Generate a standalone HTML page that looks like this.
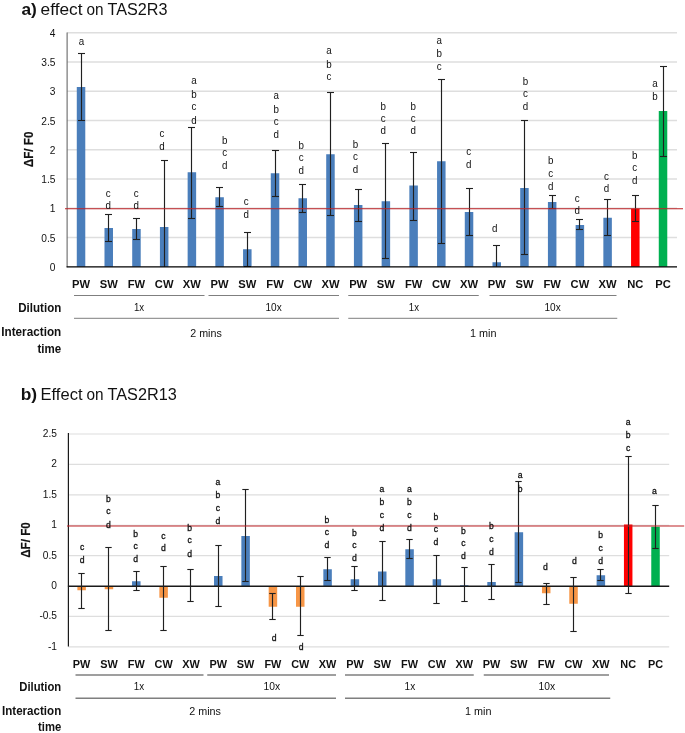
<!DOCTYPE html>
<html lang="en"><head><meta charset="utf-8"><title>Effect on TAS2R3 and TAS2R13</title>
<style>html,body{margin:0;padding:0;background:#fff}body{width:685px;height:733px;overflow:hidden}</style></head>
<body>
<svg width="685" height="733" viewBox="0 0 685 733" style="display:block;will-change:transform" font-family='"Liberation Sans", sans-serif'>
<rect width="685" height="733" fill="#fff"/>
<text x="21.40" y="14.50" font-size="15.6" text-anchor="start" font-weight="bold" fill="#111" textLength="15.40" lengthAdjust="spacingAndGlyphs">a)</text>
<text x="40.55" y="14.50" font-size="15.6" text-anchor="start" font-weight="normal" fill="#111" textLength="41.95" lengthAdjust="spacingAndGlyphs">effect</text>
<text x="86.50" y="14.50" font-size="15.6" text-anchor="start" font-weight="normal" fill="#111" textLength="17.10" lengthAdjust="spacingAndGlyphs">on</text>
<text x="107.50" y="14.50" font-size="15.6" text-anchor="start" font-weight="normal" fill="#111" textLength="59.90" lengthAdjust="spacingAndGlyphs">TAS2R3</text>
<text x="20.70" y="399.50" font-size="15.6" text-anchor="start" font-weight="bold" fill="#111" textLength="16.40" lengthAdjust="spacingAndGlyphs">b)</text>
<text x="40.55" y="399.50" font-size="15.6" text-anchor="start" font-weight="normal" fill="#111" textLength="41.95" lengthAdjust="spacingAndGlyphs">Effect</text>
<text x="86.50" y="399.50" font-size="15.6" text-anchor="start" font-weight="normal" fill="#111" textLength="17.10" lengthAdjust="spacingAndGlyphs">on</text>
<text x="107.50" y="399.50" font-size="15.6" text-anchor="start" font-weight="normal" fill="#111" textLength="69.30" lengthAdjust="spacingAndGlyphs">TAS2R13</text>
<line x1="67.10" y1="237.50" x2="677.00" y2="237.50" stroke="#dedede" stroke-width="1.4"/>
<line x1="67.10" y1="208.25" x2="677.00" y2="208.25" stroke="#dedede" stroke-width="1.4"/>
<line x1="67.10" y1="179.00" x2="677.00" y2="179.00" stroke="#dedede" stroke-width="1.4"/>
<line x1="67.10" y1="149.75" x2="677.00" y2="149.75" stroke="#dedede" stroke-width="1.4"/>
<line x1="67.10" y1="120.50" x2="677.00" y2="120.50" stroke="#dedede" stroke-width="1.4"/>
<line x1="67.10" y1="91.25" x2="677.00" y2="91.25" stroke="#dedede" stroke-width="1.4"/>
<line x1="67.10" y1="62.00" x2="677.00" y2="62.00" stroke="#dedede" stroke-width="1.4"/>
<line x1="67.10" y1="32.75" x2="677.00" y2="32.75" stroke="#dedede" stroke-width="1.4"/>
<text x="55.50" y="270.75" font-size="10.2" text-anchor="end" font-weight="normal" fill="#111">0</text>
<text x="55.50" y="241.50" font-size="10.2" text-anchor="end" font-weight="normal" fill="#111">0.5</text>
<text x="55.50" y="212.25" font-size="10.2" text-anchor="end" font-weight="normal" fill="#111">1</text>
<text x="55.50" y="183.00" font-size="10.2" text-anchor="end" font-weight="normal" fill="#111">1.5</text>
<text x="55.50" y="153.75" font-size="10.2" text-anchor="end" font-weight="normal" fill="#111">2</text>
<text x="55.50" y="124.50" font-size="10.2" text-anchor="end" font-weight="normal" fill="#111">2.5</text>
<text x="55.50" y="95.25" font-size="10.2" text-anchor="end" font-weight="normal" fill="#111">3</text>
<text x="55.50" y="66.00" font-size="10.2" text-anchor="end" font-weight="normal" fill="#111">3.5</text>
<text x="55.50" y="36.75" font-size="10.2" text-anchor="end" font-weight="normal" fill="#111">4</text>
<rect x="76.78" y="87.00" width="8.50" height="179.75" fill="#4a7ebb"/>
<rect x="104.49" y="228.00" width="8.50" height="38.75" fill="#4a7ebb"/>
<rect x="132.21" y="229.00" width="8.50" height="37.75" fill="#4a7ebb"/>
<rect x="159.92" y="227.00" width="8.50" height="39.75" fill="#4a7ebb"/>
<rect x="187.64" y="172.25" width="8.50" height="94.50" fill="#4a7ebb"/>
<rect x="215.35" y="197.25" width="8.50" height="69.50" fill="#4a7ebb"/>
<rect x="243.06" y="249.25" width="8.50" height="17.50" fill="#4a7ebb"/>
<rect x="270.78" y="173.25" width="8.50" height="93.50" fill="#4a7ebb"/>
<rect x="298.49" y="198.25" width="8.50" height="68.50" fill="#4a7ebb"/>
<rect x="326.21" y="154.25" width="8.50" height="112.50" fill="#4a7ebb"/>
<rect x="353.92" y="205.00" width="8.50" height="61.75" fill="#4a7ebb"/>
<rect x="381.63" y="201.25" width="8.50" height="65.50" fill="#4a7ebb"/>
<rect x="409.35" y="185.50" width="8.50" height="81.25" fill="#4a7ebb"/>
<rect x="437.06" y="161.25" width="8.50" height="105.50" fill="#4a7ebb"/>
<rect x="464.78" y="212.00" width="8.50" height="54.75" fill="#4a7ebb"/>
<rect x="492.49" y="262.25" width="8.50" height="4.50" fill="#4a7ebb"/>
<rect x="520.20" y="188.00" width="8.50" height="78.75" fill="#4a7ebb"/>
<rect x="547.92" y="202.00" width="8.50" height="64.75" fill="#4a7ebb"/>
<rect x="575.63" y="225.00" width="8.50" height="41.75" fill="#4a7ebb"/>
<rect x="603.35" y="217.75" width="8.50" height="49.00" fill="#4a7ebb"/>
<rect x="631.06" y="208.75" width="8.50" height="58.00" fill="#ff0000"/>
<rect x="658.77" y="111.00" width="8.50" height="155.75" fill="#00b050"/>
<line x1="81.50" y1="53.25" x2="81.50" y2="120.00" stroke="#202020" stroke-width="1.15"/>
<line x1="78.00" y1="53.50" x2="85.00" y2="53.50" stroke="#202020" stroke-width="1.1"/>
<line x1="78.00" y1="120.50" x2="85.00" y2="120.50" stroke="#202020" stroke-width="1.1"/>
<line x1="108.50" y1="214.75" x2="108.50" y2="241.25" stroke="#202020" stroke-width="1.15"/>
<line x1="105.00" y1="214.50" x2="112.00" y2="214.50" stroke="#202020" stroke-width="1.1"/>
<line x1="105.00" y1="241.50" x2="112.00" y2="241.50" stroke="#202020" stroke-width="1.1"/>
<line x1="136.50" y1="218.75" x2="136.50" y2="239.25" stroke="#202020" stroke-width="1.15"/>
<line x1="133.00" y1="218.50" x2="140.00" y2="218.50" stroke="#202020" stroke-width="1.1"/>
<line x1="133.00" y1="239.50" x2="140.00" y2="239.50" stroke="#202020" stroke-width="1.1"/>
<line x1="164.50" y1="160.00" x2="164.50" y2="266.75" stroke="#202020" stroke-width="1.15"/>
<line x1="161.00" y1="160.50" x2="168.00" y2="160.50" stroke="#202020" stroke-width="1.1"/>
<line x1="191.50" y1="127.00" x2="191.50" y2="218.00" stroke="#202020" stroke-width="1.15"/>
<line x1="188.00" y1="127.50" x2="195.00" y2="127.50" stroke="#202020" stroke-width="1.1"/>
<line x1="188.00" y1="218.50" x2="195.00" y2="218.50" stroke="#202020" stroke-width="1.1"/>
<line x1="219.50" y1="187.75" x2="219.50" y2="206.25" stroke="#202020" stroke-width="1.15"/>
<line x1="216.00" y1="187.50" x2="223.00" y2="187.50" stroke="#202020" stroke-width="1.1"/>
<line x1="216.00" y1="206.50" x2="223.00" y2="206.50" stroke="#202020" stroke-width="1.1"/>
<line x1="247.50" y1="232.75" x2="247.50" y2="266.00" stroke="#202020" stroke-width="1.15"/>
<line x1="244.00" y1="232.50" x2="251.00" y2="232.50" stroke="#202020" stroke-width="1.1"/>
<line x1="244.00" y1="266.50" x2="251.00" y2="266.50" stroke="#202020" stroke-width="1.1"/>
<line x1="275.50" y1="150.50" x2="275.50" y2="196.25" stroke="#202020" stroke-width="1.15"/>
<line x1="272.00" y1="150.50" x2="279.00" y2="150.50" stroke="#202020" stroke-width="1.1"/>
<line x1="272.00" y1="196.50" x2="279.00" y2="196.50" stroke="#202020" stroke-width="1.1"/>
<line x1="302.50" y1="184.50" x2="302.50" y2="212.50" stroke="#202020" stroke-width="1.15"/>
<line x1="299.00" y1="184.50" x2="306.00" y2="184.50" stroke="#202020" stroke-width="1.1"/>
<line x1="299.00" y1="212.50" x2="306.00" y2="212.50" stroke="#202020" stroke-width="1.1"/>
<line x1="330.50" y1="92.50" x2="330.50" y2="215.75" stroke="#202020" stroke-width="1.15"/>
<line x1="327.00" y1="92.50" x2="334.00" y2="92.50" stroke="#202020" stroke-width="1.1"/>
<line x1="327.00" y1="215.50" x2="334.00" y2="215.50" stroke="#202020" stroke-width="1.1"/>
<line x1="358.50" y1="189.75" x2="358.50" y2="221.25" stroke="#202020" stroke-width="1.15"/>
<line x1="355.00" y1="189.50" x2="362.00" y2="189.50" stroke="#202020" stroke-width="1.1"/>
<line x1="355.00" y1="221.50" x2="362.00" y2="221.50" stroke="#202020" stroke-width="1.1"/>
<line x1="385.50" y1="143.25" x2="385.50" y2="258.75" stroke="#202020" stroke-width="1.15"/>
<line x1="382.00" y1="143.50" x2="389.00" y2="143.50" stroke="#202020" stroke-width="1.1"/>
<line x1="382.00" y1="258.50" x2="389.00" y2="258.50" stroke="#202020" stroke-width="1.1"/>
<line x1="413.50" y1="152.25" x2="413.50" y2="220.25" stroke="#202020" stroke-width="1.15"/>
<line x1="410.00" y1="152.50" x2="417.00" y2="152.50" stroke="#202020" stroke-width="1.1"/>
<line x1="410.00" y1="220.50" x2="417.00" y2="220.50" stroke="#202020" stroke-width="1.1"/>
<line x1="441.50" y1="79.50" x2="441.50" y2="243.75" stroke="#202020" stroke-width="1.15"/>
<line x1="438.00" y1="79.50" x2="445.00" y2="79.50" stroke="#202020" stroke-width="1.1"/>
<line x1="438.00" y1="243.50" x2="445.00" y2="243.50" stroke="#202020" stroke-width="1.1"/>
<line x1="469.50" y1="188.25" x2="469.50" y2="235.25" stroke="#202020" stroke-width="1.15"/>
<line x1="466.00" y1="188.50" x2="473.00" y2="188.50" stroke="#202020" stroke-width="1.1"/>
<line x1="466.00" y1="235.50" x2="473.00" y2="235.50" stroke="#202020" stroke-width="1.1"/>
<line x1="496.50" y1="245.50" x2="496.50" y2="266.75" stroke="#202020" stroke-width="1.15"/>
<line x1="493.00" y1="245.50" x2="500.00" y2="245.50" stroke="#202020" stroke-width="1.1"/>
<line x1="524.50" y1="120.50" x2="524.50" y2="254.50" stroke="#202020" stroke-width="1.15"/>
<line x1="521.00" y1="120.50" x2="528.00" y2="120.50" stroke="#202020" stroke-width="1.1"/>
<line x1="521.00" y1="254.50" x2="528.00" y2="254.50" stroke="#202020" stroke-width="1.1"/>
<line x1="552.50" y1="195.25" x2="552.50" y2="208.00" stroke="#202020" stroke-width="1.15"/>
<line x1="549.00" y1="195.50" x2="556.00" y2="195.50" stroke="#202020" stroke-width="1.1"/>
<line x1="549.00" y1="208.50" x2="556.00" y2="208.50" stroke="#202020" stroke-width="1.1"/>
<line x1="579.50" y1="219.50" x2="579.50" y2="229.25" stroke="#202020" stroke-width="1.15"/>
<line x1="576.00" y1="219.50" x2="583.00" y2="219.50" stroke="#202020" stroke-width="1.1"/>
<line x1="576.00" y1="229.50" x2="583.00" y2="229.50" stroke="#202020" stroke-width="1.1"/>
<line x1="607.50" y1="199.25" x2="607.50" y2="235.25" stroke="#202020" stroke-width="1.15"/>
<line x1="604.00" y1="199.50" x2="611.00" y2="199.50" stroke="#202020" stroke-width="1.1"/>
<line x1="604.00" y1="235.50" x2="611.00" y2="235.50" stroke="#202020" stroke-width="1.1"/>
<line x1="635.50" y1="195.50" x2="635.50" y2="221.75" stroke="#202020" stroke-width="1.15"/>
<line x1="632.00" y1="195.50" x2="639.00" y2="195.50" stroke="#202020" stroke-width="1.1"/>
<line x1="632.00" y1="221.50" x2="639.00" y2="221.50" stroke="#202020" stroke-width="1.1"/>
<line x1="663.50" y1="66.00" x2="663.50" y2="156.50" stroke="#202020" stroke-width="1.15"/>
<line x1="660.00" y1="66.50" x2="667.00" y2="66.50" stroke="#202020" stroke-width="1.1"/>
<line x1="660.00" y1="156.50" x2="667.00" y2="156.50" stroke="#202020" stroke-width="1.1"/>
<line x1="67.10" y1="32.50" x2="67.10" y2="267.25" stroke="#595959" stroke-width="1"/>
<line x1="66.60" y1="266.80" x2="677.00" y2="266.80" stroke="#000" stroke-width="1.35"/>
<line x1="65.00" y1="208.70" x2="683.00" y2="208.70" stroke="#bd2226" stroke-width="1.15"/>
<text transform="translate(81.50,45.00) scale(0.97,1)" font-size="10.1" text-anchor="middle" fill="#111">a</text>
<text transform="translate(108.25,197.00) scale(0.97,1)" font-size="10.1" text-anchor="middle" fill="#111">c</text>
<text transform="translate(108.25,209.00) scale(0.97,1)" font-size="10.1" text-anchor="middle" fill="#111">d</text>
<text transform="translate(136.25,197.00) scale(0.97,1)" font-size="10.1" text-anchor="middle" fill="#111">c</text>
<text transform="translate(136.25,209.00) scale(0.97,1)" font-size="10.1" text-anchor="middle" fill="#111">d</text>
<text transform="translate(162.00,137.00) scale(0.97,1)" font-size="10.1" text-anchor="middle" fill="#111">c</text>
<text transform="translate(162.00,150.00) scale(0.97,1)" font-size="10.1" text-anchor="middle" fill="#111">d</text>
<text transform="translate(194.00,84.00) scale(0.97,1)" font-size="10.1" text-anchor="middle" fill="#111">a</text>
<text transform="translate(194.00,98.00) scale(0.97,1)" font-size="10.1" text-anchor="middle" fill="#111">b</text>
<text transform="translate(194.00,110.00) scale(0.97,1)" font-size="10.1" text-anchor="middle" fill="#111">c</text>
<text transform="translate(194.00,124.00) scale(0.97,1)" font-size="10.1" text-anchor="middle" fill="#111">d</text>
<text transform="translate(224.60,144.00) scale(0.97,1)" font-size="10.1" text-anchor="middle" fill="#111">b</text>
<text transform="translate(224.60,156.00) scale(0.97,1)" font-size="10.1" text-anchor="middle" fill="#111">c</text>
<text transform="translate(224.60,169.00) scale(0.97,1)" font-size="10.1" text-anchor="middle" fill="#111">d</text>
<text transform="translate(246.25,205.00) scale(0.97,1)" font-size="10.1" text-anchor="middle" fill="#111">c</text>
<text transform="translate(246.25,218.00) scale(0.97,1)" font-size="10.1" text-anchor="middle" fill="#111">d</text>
<text transform="translate(276.25,99.00) scale(0.97,1)" font-size="10.1" text-anchor="middle" fill="#111">a</text>
<text transform="translate(276.25,113.00) scale(0.97,1)" font-size="10.1" text-anchor="middle" fill="#111">b</text>
<text transform="translate(276.25,125.00) scale(0.97,1)" font-size="10.1" text-anchor="middle" fill="#111">c</text>
<text transform="translate(276.25,138.00) scale(0.97,1)" font-size="10.1" text-anchor="middle" fill="#111">d</text>
<text transform="translate(301.25,149.00) scale(0.97,1)" font-size="10.1" text-anchor="middle" fill="#111">b</text>
<text transform="translate(301.25,161.00) scale(0.97,1)" font-size="10.1" text-anchor="middle" fill="#111">c</text>
<text transform="translate(301.25,174.00) scale(0.97,1)" font-size="10.1" text-anchor="middle" fill="#111">d</text>
<text transform="translate(329.00,54.00) scale(0.97,1)" font-size="10.1" text-anchor="middle" fill="#111">a</text>
<text transform="translate(329.00,68.00) scale(0.97,1)" font-size="10.1" text-anchor="middle" fill="#111">b</text>
<text transform="translate(329.00,80.00) scale(0.97,1)" font-size="10.1" text-anchor="middle" fill="#111">c</text>
<text transform="translate(355.50,148.00) scale(0.97,1)" font-size="10.1" text-anchor="middle" fill="#111">b</text>
<text transform="translate(355.50,160.00) scale(0.97,1)" font-size="10.1" text-anchor="middle" fill="#111">c</text>
<text transform="translate(355.50,173.00) scale(0.97,1)" font-size="10.1" text-anchor="middle" fill="#111">d</text>
<text transform="translate(383.25,110.00) scale(0.97,1)" font-size="10.1" text-anchor="middle" fill="#111">b</text>
<text transform="translate(383.25,122.00) scale(0.97,1)" font-size="10.1" text-anchor="middle" fill="#111">c</text>
<text transform="translate(383.25,134.00) scale(0.97,1)" font-size="10.1" text-anchor="middle" fill="#111">d</text>
<text transform="translate(413.25,110.00) scale(0.97,1)" font-size="10.1" text-anchor="middle" fill="#111">b</text>
<text transform="translate(413.25,122.00) scale(0.97,1)" font-size="10.1" text-anchor="middle" fill="#111">c</text>
<text transform="translate(413.25,134.00) scale(0.97,1)" font-size="10.1" text-anchor="middle" fill="#111">d</text>
<text transform="translate(439.25,44.00) scale(0.97,1)" font-size="10.1" text-anchor="middle" fill="#111">a</text>
<text transform="translate(439.25,57.00) scale(0.97,1)" font-size="10.1" text-anchor="middle" fill="#111">b</text>
<text transform="translate(439.25,70.00) scale(0.97,1)" font-size="10.1" text-anchor="middle" fill="#111">c</text>
<text transform="translate(468.75,155.00) scale(0.97,1)" font-size="10.1" text-anchor="middle" fill="#111">c</text>
<text transform="translate(468.75,168.00) scale(0.97,1)" font-size="10.1" text-anchor="middle" fill="#111">d</text>
<text transform="translate(494.75,232.00) scale(0.97,1)" font-size="10.1" text-anchor="middle" fill="#111">d</text>
<text transform="translate(525.50,85.00) scale(0.97,1)" font-size="10.1" text-anchor="middle" fill="#111">b</text>
<text transform="translate(525.50,97.00) scale(0.97,1)" font-size="10.1" text-anchor="middle" fill="#111">c</text>
<text transform="translate(525.50,110.00) scale(0.97,1)" font-size="10.1" text-anchor="middle" fill="#111">d</text>
<text transform="translate(550.75,164.00) scale(0.97,1)" font-size="10.1" text-anchor="middle" fill="#111">b</text>
<text transform="translate(550.75,177.00) scale(0.97,1)" font-size="10.1" text-anchor="middle" fill="#111">c</text>
<text transform="translate(550.75,190.00) scale(0.97,1)" font-size="10.1" text-anchor="middle" fill="#111">d</text>
<text transform="translate(577.25,202.00) scale(0.97,1)" font-size="10.1" text-anchor="middle" fill="#111">c</text>
<text transform="translate(577.25,214.00) scale(0.97,1)" font-size="10.1" text-anchor="middle" fill="#111">d</text>
<text transform="translate(606.50,180.00) scale(0.97,1)" font-size="10.1" text-anchor="middle" fill="#111">c</text>
<text transform="translate(606.50,192.00) scale(0.97,1)" font-size="10.1" text-anchor="middle" fill="#111">d</text>
<text transform="translate(634.75,159.00) scale(0.97,1)" font-size="10.1" text-anchor="middle" fill="#111">b</text>
<text transform="translate(634.75,171.00) scale(0.97,1)" font-size="10.1" text-anchor="middle" fill="#111">c</text>
<text transform="translate(634.75,184.00) scale(0.97,1)" font-size="10.1" text-anchor="middle" fill="#111">d</text>
<text transform="translate(655.00,87.00) scale(0.97,1)" font-size="10.1" text-anchor="middle" fill="#111">a</text>
<text transform="translate(655.00,100.00) scale(0.97,1)" font-size="10.1" text-anchor="middle" fill="#111">b</text>
<text transform="translate(32.6,149.4) rotate(-90)" font-size="12.2" font-weight="bold" text-anchor="middle" fill="#111" stroke="#111" stroke-width="0.2" textLength="35.6" lengthAdjust="spacingAndGlyphs">ΔF/ F0</text>
<text x="81.03" y="288.00" font-size="11.2" text-anchor="middle" font-weight="bold" fill="#111">PW</text>
<text x="108.74" y="288.00" font-size="11.2" text-anchor="middle" font-weight="bold" fill="#111">SW</text>
<text x="136.46" y="288.00" font-size="11.2" text-anchor="middle" font-weight="bold" fill="#111">FW</text>
<text x="164.17" y="288.00" font-size="11.2" text-anchor="middle" font-weight="bold" fill="#111">CW</text>
<text x="191.89" y="288.00" font-size="11.2" text-anchor="middle" font-weight="bold" fill="#111">XW</text>
<text x="219.60" y="288.00" font-size="11.2" text-anchor="middle" font-weight="bold" fill="#111">PW</text>
<text x="247.31" y="288.00" font-size="11.2" text-anchor="middle" font-weight="bold" fill="#111">SW</text>
<text x="275.03" y="288.00" font-size="11.2" text-anchor="middle" font-weight="bold" fill="#111">FW</text>
<text x="302.74" y="288.00" font-size="11.2" text-anchor="middle" font-weight="bold" fill="#111">CW</text>
<text x="330.46" y="288.00" font-size="11.2" text-anchor="middle" font-weight="bold" fill="#111">XW</text>
<text x="358.17" y="288.00" font-size="11.2" text-anchor="middle" font-weight="bold" fill="#111">PW</text>
<text x="385.88" y="288.00" font-size="11.2" text-anchor="middle" font-weight="bold" fill="#111">SW</text>
<text x="413.60" y="288.00" font-size="11.2" text-anchor="middle" font-weight="bold" fill="#111">FW</text>
<text x="441.31" y="288.00" font-size="11.2" text-anchor="middle" font-weight="bold" fill="#111">CW</text>
<text x="469.03" y="288.00" font-size="11.2" text-anchor="middle" font-weight="bold" fill="#111">XW</text>
<text x="496.74" y="288.00" font-size="11.2" text-anchor="middle" font-weight="bold" fill="#111">PW</text>
<text x="524.45" y="288.00" font-size="11.2" text-anchor="middle" font-weight="bold" fill="#111">SW</text>
<text x="552.17" y="288.00" font-size="11.2" text-anchor="middle" font-weight="bold" fill="#111">FW</text>
<text x="579.88" y="288.00" font-size="11.2" text-anchor="middle" font-weight="bold" fill="#111">CW</text>
<text x="607.60" y="288.00" font-size="11.2" text-anchor="middle" font-weight="bold" fill="#111">XW</text>
<text x="635.31" y="288.00" font-size="11.2" text-anchor="middle" font-weight="bold" fill="#111">NC</text>
<text x="663.02" y="288.00" font-size="11.2" text-anchor="middle" font-weight="bold" fill="#111">PC</text>
<line x1="74.00" y1="295.50" x2="204.50" y2="295.50" stroke="#7f7f7f" stroke-width="1"/>
<line x1="208.50" y1="295.50" x2="339.00" y2="295.50" stroke="#7f7f7f" stroke-width="1"/>
<line x1="348.25" y1="295.50" x2="478.75" y2="295.50" stroke="#7f7f7f" stroke-width="1"/>
<line x1="489.50" y1="295.50" x2="616.50" y2="295.50" stroke="#7f7f7f" stroke-width="1"/>
<line x1="74.00" y1="318.30" x2="339.00" y2="318.30" stroke="#7f7f7f" stroke-width="1"/>
<line x1="348.25" y1="318.30" x2="617.25" y2="318.30" stroke="#7f7f7f" stroke-width="1"/>
<text x="139.10" y="311.00" font-size="10.4" text-anchor="middle" font-weight="normal" fill="#111" textLength="10.20" lengthAdjust="spacingAndGlyphs">1x</text>
<text x="273.60" y="311.00" font-size="10.4" text-anchor="middle" font-weight="normal" fill="#111" textLength="16.20" lengthAdjust="spacingAndGlyphs">10x</text>
<text x="413.90" y="311.00" font-size="10.4" text-anchor="middle" font-weight="normal" fill="#111" textLength="10.20" lengthAdjust="spacingAndGlyphs">1x</text>
<text x="552.60" y="311.00" font-size="10.4" text-anchor="middle" font-weight="normal" fill="#111" textLength="16.20" lengthAdjust="spacingAndGlyphs">10x</text>
<text x="206.00" y="337.00" font-size="10.4" text-anchor="middle" font-weight="normal" fill="#111" textLength="31.50" lengthAdjust="spacingAndGlyphs">2 mins</text>
<text x="483.25" y="337.00" font-size="10.4" text-anchor="middle" font-weight="normal" fill="#111" textLength="26.50" lengthAdjust="spacingAndGlyphs">1 min</text>
<text x="61.25" y="311.50" font-size="12.2" text-anchor="end" font-weight="bold" fill="#111" textLength="43.00" lengthAdjust="spacingAndGlyphs">Dilution</text>
<text x="61.25" y="336.00" font-size="12.2" text-anchor="end" font-weight="bold" fill="#111" textLength="60.00" lengthAdjust="spacingAndGlyphs">Interaction</text>
<text x="61.25" y="352.50" font-size="12.2" text-anchor="end" font-weight="bold" fill="#111" textLength="23.75" lengthAdjust="spacingAndGlyphs">time</text>
<line x1="68.40" y1="646.80" x2="669.20" y2="646.80" stroke="#dedede" stroke-width="1.15"/>
<line x1="68.40" y1="616.40" x2="669.20" y2="616.40" stroke="#dedede" stroke-width="1.15"/>
<line x1="68.40" y1="555.60" x2="669.20" y2="555.60" stroke="#dedede" stroke-width="1.15"/>
<line x1="68.40" y1="525.20" x2="669.20" y2="525.20" stroke="#dedede" stroke-width="1.15"/>
<line x1="68.40" y1="494.80" x2="669.20" y2="494.80" stroke="#dedede" stroke-width="1.15"/>
<line x1="68.40" y1="464.40" x2="669.20" y2="464.40" stroke="#dedede" stroke-width="1.15"/>
<line x1="68.40" y1="434.00" x2="669.20" y2="434.00" stroke="#dedede" stroke-width="1.15"/>
<text x="57.00" y="649.80" font-size="10.2" text-anchor="end" font-weight="normal" fill="#111">-1</text>
<text x="57.00" y="619.40" font-size="10.2" text-anchor="end" font-weight="normal" fill="#111">-0.5</text>
<text x="57.00" y="589.00" font-size="10.2" text-anchor="end" font-weight="normal" fill="#111">0</text>
<text x="57.00" y="558.60" font-size="10.2" text-anchor="end" font-weight="normal" fill="#111">0.5</text>
<text x="57.00" y="528.20" font-size="10.2" text-anchor="end" font-weight="normal" fill="#111">1</text>
<text x="57.00" y="497.80" font-size="10.2" text-anchor="end" font-weight="normal" fill="#111">1.5</text>
<text x="57.00" y="467.40" font-size="10.2" text-anchor="end" font-weight="normal" fill="#111">2</text>
<text x="57.00" y="437.00" font-size="10.2" text-anchor="end" font-weight="normal" fill="#111">2.5</text>
<rect x="77.38" y="586.00" width="8.50" height="4.25" fill="#f79646"/>
<rect x="104.71" y="586.00" width="8.50" height="3.25" fill="#f79646"/>
<rect x="132.04" y="581.25" width="8.50" height="4.75" fill="#4a7ebb"/>
<rect x="159.36" y="586.00" width="8.50" height="11.75" fill="#f79646"/>
<rect x="214.02" y="576.00" width="8.50" height="10.00" fill="#4a7ebb"/>
<rect x="241.35" y="536.00" width="8.50" height="50.00" fill="#4a7ebb"/>
<rect x="268.68" y="586.00" width="8.50" height="20.75" fill="#f79646"/>
<rect x="296.00" y="586.00" width="8.50" height="20.75" fill="#f79646"/>
<rect x="323.33" y="569.25" width="8.50" height="16.75" fill="#4a7ebb"/>
<rect x="350.66" y="579.25" width="8.50" height="6.75" fill="#4a7ebb"/>
<rect x="377.99" y="571.50" width="8.50" height="14.50" fill="#4a7ebb"/>
<rect x="405.32" y="549.25" width="8.50" height="36.75" fill="#4a7ebb"/>
<rect x="432.64" y="579.25" width="8.50" height="6.75" fill="#4a7ebb"/>
<rect x="459.97" y="585.25" width="8.50" height="0.75" fill="#4a7ebb"/>
<rect x="487.30" y="582.00" width="8.50" height="4.00" fill="#4a7ebb"/>
<rect x="514.63" y="532.25" width="8.50" height="53.75" fill="#4a7ebb"/>
<rect x="541.96" y="586.00" width="8.50" height="7.25" fill="#f79646"/>
<rect x="569.28" y="586.00" width="8.50" height="17.75" fill="#f79646"/>
<rect x="596.61" y="575.25" width="8.50" height="10.75" fill="#4a7ebb"/>
<rect x="623.94" y="524.50" width="8.50" height="61.50" fill="#ff0000"/>
<rect x="651.27" y="526.75" width="8.50" height="59.25" fill="#00b050"/>
<line x1="68.40" y1="433.00" x2="68.40" y2="646.50" stroke="#1a1a1a" stroke-width="1.2"/>
<line x1="67.90" y1="586.15" x2="669.20" y2="586.15" stroke="#1a1a1a" stroke-width="1.45"/>
<line x1="81.50" y1="573.75" x2="81.50" y2="608.25" stroke="#202020" stroke-width="1.15"/>
<line x1="78.30" y1="573.50" x2="84.70" y2="573.50" stroke="#202020" stroke-width="1.1"/>
<line x1="78.30" y1="608.50" x2="84.70" y2="608.50" stroke="#202020" stroke-width="1.1"/>
<line x1="108.50" y1="547.75" x2="108.50" y2="630.00" stroke="#202020" stroke-width="1.15"/>
<line x1="105.30" y1="547.50" x2="111.70" y2="547.50" stroke="#202020" stroke-width="1.1"/>
<line x1="105.30" y1="630.50" x2="111.70" y2="630.50" stroke="#202020" stroke-width="1.1"/>
<line x1="136.50" y1="571.75" x2="136.50" y2="590.00" stroke="#202020" stroke-width="1.15"/>
<line x1="133.30" y1="571.50" x2="139.70" y2="571.50" stroke="#202020" stroke-width="1.1"/>
<line x1="133.30" y1="590.50" x2="139.70" y2="590.50" stroke="#202020" stroke-width="1.1"/>
<line x1="163.50" y1="566.00" x2="163.50" y2="630.00" stroke="#202020" stroke-width="1.15"/>
<line x1="160.30" y1="566.50" x2="166.70" y2="566.50" stroke="#202020" stroke-width="1.1"/>
<line x1="160.30" y1="630.50" x2="166.70" y2="630.50" stroke="#202020" stroke-width="1.1"/>
<line x1="190.50" y1="569.50" x2="190.50" y2="601.50" stroke="#202020" stroke-width="1.15"/>
<line x1="187.30" y1="569.50" x2="193.70" y2="569.50" stroke="#202020" stroke-width="1.1"/>
<line x1="187.30" y1="601.50" x2="193.70" y2="601.50" stroke="#202020" stroke-width="1.1"/>
<line x1="218.50" y1="545.75" x2="218.50" y2="606.25" stroke="#202020" stroke-width="1.15"/>
<line x1="215.30" y1="545.50" x2="221.70" y2="545.50" stroke="#202020" stroke-width="1.1"/>
<line x1="215.30" y1="606.50" x2="221.70" y2="606.50" stroke="#202020" stroke-width="1.1"/>
<line x1="245.50" y1="489.25" x2="245.50" y2="581.25" stroke="#202020" stroke-width="1.15"/>
<line x1="242.30" y1="489.50" x2="248.70" y2="489.50" stroke="#202020" stroke-width="1.1"/>
<line x1="242.30" y1="581.50" x2="248.70" y2="581.50" stroke="#202020" stroke-width="1.1"/>
<line x1="272.50" y1="593.75" x2="272.50" y2="619.50" stroke="#202020" stroke-width="1.15"/>
<line x1="269.30" y1="593.50" x2="275.70" y2="593.50" stroke="#202020" stroke-width="1.1"/>
<line x1="269.30" y1="619.50" x2="275.70" y2="619.50" stroke="#202020" stroke-width="1.1"/>
<line x1="300.50" y1="576.25" x2="300.50" y2="635.75" stroke="#202020" stroke-width="1.15"/>
<line x1="297.30" y1="576.50" x2="303.70" y2="576.50" stroke="#202020" stroke-width="1.1"/>
<line x1="297.30" y1="635.50" x2="303.70" y2="635.50" stroke="#202020" stroke-width="1.1"/>
<line x1="327.50" y1="557.50" x2="327.50" y2="580.50" stroke="#202020" stroke-width="1.15"/>
<line x1="324.30" y1="557.50" x2="330.70" y2="557.50" stroke="#202020" stroke-width="1.1"/>
<line x1="324.30" y1="580.50" x2="330.70" y2="580.50" stroke="#202020" stroke-width="1.1"/>
<line x1="354.50" y1="566.25" x2="354.50" y2="590.50" stroke="#202020" stroke-width="1.15"/>
<line x1="351.30" y1="566.50" x2="357.70" y2="566.50" stroke="#202020" stroke-width="1.1"/>
<line x1="351.30" y1="590.50" x2="357.70" y2="590.50" stroke="#202020" stroke-width="1.1"/>
<line x1="382.50" y1="541.00" x2="382.50" y2="600.50" stroke="#202020" stroke-width="1.15"/>
<line x1="379.30" y1="541.50" x2="385.70" y2="541.50" stroke="#202020" stroke-width="1.1"/>
<line x1="379.30" y1="600.50" x2="385.70" y2="600.50" stroke="#202020" stroke-width="1.1"/>
<line x1="409.50" y1="539.50" x2="409.50" y2="558.50" stroke="#202020" stroke-width="1.15"/>
<line x1="406.30" y1="539.50" x2="412.70" y2="539.50" stroke="#202020" stroke-width="1.1"/>
<line x1="406.30" y1="558.50" x2="412.70" y2="558.50" stroke="#202020" stroke-width="1.1"/>
<line x1="436.50" y1="555.25" x2="436.50" y2="603.25" stroke="#202020" stroke-width="1.15"/>
<line x1="433.30" y1="555.50" x2="439.70" y2="555.50" stroke="#202020" stroke-width="1.1"/>
<line x1="433.30" y1="603.50" x2="439.70" y2="603.50" stroke="#202020" stroke-width="1.1"/>
<line x1="464.50" y1="567.00" x2="464.50" y2="601.25" stroke="#202020" stroke-width="1.15"/>
<line x1="461.30" y1="567.50" x2="467.70" y2="567.50" stroke="#202020" stroke-width="1.1"/>
<line x1="461.30" y1="601.50" x2="467.70" y2="601.50" stroke="#202020" stroke-width="1.1"/>
<line x1="491.50" y1="564.25" x2="491.50" y2="599.75" stroke="#202020" stroke-width="1.15"/>
<line x1="488.30" y1="564.50" x2="494.70" y2="564.50" stroke="#202020" stroke-width="1.1"/>
<line x1="488.30" y1="599.50" x2="494.70" y2="599.50" stroke="#202020" stroke-width="1.1"/>
<line x1="518.50" y1="481.50" x2="518.50" y2="582.50" stroke="#202020" stroke-width="1.15"/>
<line x1="515.30" y1="481.50" x2="521.70" y2="481.50" stroke="#202020" stroke-width="1.1"/>
<line x1="515.30" y1="582.50" x2="521.70" y2="582.50" stroke="#202020" stroke-width="1.1"/>
<line x1="546.50" y1="583.50" x2="546.50" y2="604.25" stroke="#202020" stroke-width="1.15"/>
<line x1="543.30" y1="583.50" x2="549.70" y2="583.50" stroke="#202020" stroke-width="1.1"/>
<line x1="543.30" y1="604.50" x2="549.70" y2="604.50" stroke="#202020" stroke-width="1.1"/>
<line x1="573.50" y1="577.75" x2="573.50" y2="631.25" stroke="#202020" stroke-width="1.15"/>
<line x1="570.30" y1="577.50" x2="576.70" y2="577.50" stroke="#202020" stroke-width="1.1"/>
<line x1="570.30" y1="631.50" x2="576.70" y2="631.50" stroke="#202020" stroke-width="1.1"/>
<line x1="600.50" y1="569.25" x2="600.50" y2="580.75" stroke="#202020" stroke-width="1.15"/>
<line x1="597.30" y1="569.50" x2="603.70" y2="569.50" stroke="#202020" stroke-width="1.1"/>
<line x1="597.30" y1="580.50" x2="603.70" y2="580.50" stroke="#202020" stroke-width="1.1"/>
<line x1="628.50" y1="456.25" x2="628.50" y2="593.00" stroke="#202020" stroke-width="1.15"/>
<line x1="625.30" y1="456.50" x2="631.70" y2="456.50" stroke="#202020" stroke-width="1.1"/>
<line x1="625.30" y1="593.50" x2="631.70" y2="593.50" stroke="#202020" stroke-width="1.1"/>
<line x1="655.50" y1="505.00" x2="655.50" y2="548.75" stroke="#202020" stroke-width="1.15"/>
<line x1="652.30" y1="505.50" x2="658.70" y2="505.50" stroke="#202020" stroke-width="1.1"/>
<line x1="652.30" y1="548.50" x2="658.70" y2="548.50" stroke="#202020" stroke-width="1.1"/>
<line x1="67.00" y1="525.95" x2="684.20" y2="525.95" stroke="#bd2226" stroke-width="1.15"/>
<text transform="translate(82.25,550.00) scale(0.97,1)" font-size="8.9" text-anchor="middle" fill="#111" stroke="#111" stroke-width="0.3">c</text>
<text transform="translate(82.25,563.00) scale(0.97,1)" font-size="8.9" text-anchor="middle" fill="#111" stroke="#111" stroke-width="0.3">d</text>
<text transform="translate(108.50,502.00) scale(0.97,1)" font-size="8.9" text-anchor="middle" fill="#111" stroke="#111" stroke-width="0.3">b</text>
<text transform="translate(108.50,514.00) scale(0.97,1)" font-size="8.9" text-anchor="middle" fill="#111" stroke="#111" stroke-width="0.3">c</text>
<text transform="translate(108.50,528.00) scale(0.97,1)" font-size="8.9" text-anchor="middle" fill="#111" stroke="#111" stroke-width="0.3">d</text>
<text transform="translate(135.75,537.00) scale(0.97,1)" font-size="8.9" text-anchor="middle" fill="#111" stroke="#111" stroke-width="0.3">b</text>
<text transform="translate(135.75,549.00) scale(0.97,1)" font-size="8.9" text-anchor="middle" fill="#111" stroke="#111" stroke-width="0.3">c</text>
<text transform="translate(135.75,562.00) scale(0.97,1)" font-size="8.9" text-anchor="middle" fill="#111" stroke="#111" stroke-width="0.3">d</text>
<text transform="translate(163.50,539.00) scale(0.97,1)" font-size="8.9" text-anchor="middle" fill="#111" stroke="#111" stroke-width="0.3">c</text>
<text transform="translate(163.50,551.00) scale(0.97,1)" font-size="8.9" text-anchor="middle" fill="#111" stroke="#111" stroke-width="0.3">d</text>
<text transform="translate(189.75,531.00) scale(0.97,1)" font-size="8.9" text-anchor="middle" fill="#111" stroke="#111" stroke-width="0.3">b</text>
<text transform="translate(189.75,543.00) scale(0.97,1)" font-size="8.9" text-anchor="middle" fill="#111" stroke="#111" stroke-width="0.3">c</text>
<text transform="translate(189.75,557.00) scale(0.97,1)" font-size="8.9" text-anchor="middle" fill="#111" stroke="#111" stroke-width="0.3">d</text>
<text transform="translate(218.00,485.00) scale(0.97,1)" font-size="8.9" text-anchor="middle" fill="#111" stroke="#111" stroke-width="0.3">a</text>
<text transform="translate(218.00,498.00) scale(0.97,1)" font-size="8.9" text-anchor="middle" fill="#111" stroke="#111" stroke-width="0.3">b</text>
<text transform="translate(218.00,511.00) scale(0.97,1)" font-size="8.9" text-anchor="middle" fill="#111" stroke="#111" stroke-width="0.3">c</text>
<text transform="translate(218.00,524.00) scale(0.97,1)" font-size="8.9" text-anchor="middle" fill="#111" stroke="#111" stroke-width="0.3">d</text>
<text transform="translate(274.25,641.00) scale(0.97,1)" font-size="8.9" text-anchor="middle" fill="#111" stroke="#111" stroke-width="0.3">d</text>
<text transform="translate(301.25,650.00) scale(0.97,1)" font-size="8.9" text-anchor="middle" fill="#111" stroke="#111" stroke-width="0.3">d</text>
<text transform="translate(327.00,523.00) scale(0.97,1)" font-size="8.9" text-anchor="middle" fill="#111" stroke="#111" stroke-width="0.3">b</text>
<text transform="translate(327.00,535.00) scale(0.97,1)" font-size="8.9" text-anchor="middle" fill="#111" stroke="#111" stroke-width="0.3">c</text>
<text transform="translate(327.00,548.00) scale(0.97,1)" font-size="8.9" text-anchor="middle" fill="#111" stroke="#111" stroke-width="0.3">d</text>
<text transform="translate(354.50,536.00) scale(0.97,1)" font-size="8.9" text-anchor="middle" fill="#111" stroke="#111" stroke-width="0.3">b</text>
<text transform="translate(354.50,548.00) scale(0.97,1)" font-size="8.9" text-anchor="middle" fill="#111" stroke="#111" stroke-width="0.3">c</text>
<text transform="translate(354.50,561.00) scale(0.97,1)" font-size="8.9" text-anchor="middle" fill="#111" stroke="#111" stroke-width="0.3">d</text>
<text transform="translate(382.00,492.00) scale(0.97,1)" font-size="8.9" text-anchor="middle" fill="#111" stroke="#111" stroke-width="0.3">a</text>
<text transform="translate(382.00,505.00) scale(0.97,1)" font-size="8.9" text-anchor="middle" fill="#111" stroke="#111" stroke-width="0.3">b</text>
<text transform="translate(382.00,518.00) scale(0.97,1)" font-size="8.9" text-anchor="middle" fill="#111" stroke="#111" stroke-width="0.3">c</text>
<text transform="translate(382.00,531.00) scale(0.97,1)" font-size="8.9" text-anchor="middle" fill="#111" stroke="#111" stroke-width="0.3">d</text>
<text transform="translate(409.50,492.00) scale(0.97,1)" font-size="8.9" text-anchor="middle" fill="#111" stroke="#111" stroke-width="0.3">a</text>
<text transform="translate(409.50,505.00) scale(0.97,1)" font-size="8.9" text-anchor="middle" fill="#111" stroke="#111" stroke-width="0.3">b</text>
<text transform="translate(409.50,518.00) scale(0.97,1)" font-size="8.9" text-anchor="middle" fill="#111" stroke="#111" stroke-width="0.3">c</text>
<text transform="translate(409.50,531.00) scale(0.97,1)" font-size="8.9" text-anchor="middle" fill="#111" stroke="#111" stroke-width="0.3">d</text>
<text transform="translate(436.00,520.00) scale(0.97,1)" font-size="8.9" text-anchor="middle" fill="#111" stroke="#111" stroke-width="0.3">b</text>
<text transform="translate(436.00,532.00) scale(0.97,1)" font-size="8.9" text-anchor="middle" fill="#111" stroke="#111" stroke-width="0.3">c</text>
<text transform="translate(436.00,545.00) scale(0.97,1)" font-size="8.9" text-anchor="middle" fill="#111" stroke="#111" stroke-width="0.3">d</text>
<text transform="translate(463.50,534.00) scale(0.97,1)" font-size="8.9" text-anchor="middle" fill="#111" stroke="#111" stroke-width="0.3">b</text>
<text transform="translate(463.50,546.00) scale(0.97,1)" font-size="8.9" text-anchor="middle" fill="#111" stroke="#111" stroke-width="0.3">c</text>
<text transform="translate(463.50,559.00) scale(0.97,1)" font-size="8.9" text-anchor="middle" fill="#111" stroke="#111" stroke-width="0.3">d</text>
<text transform="translate(491.50,529.00) scale(0.97,1)" font-size="8.9" text-anchor="middle" fill="#111" stroke="#111" stroke-width="0.3">b</text>
<text transform="translate(491.50,542.00) scale(0.97,1)" font-size="8.9" text-anchor="middle" fill="#111" stroke="#111" stroke-width="0.3">c</text>
<text transform="translate(491.50,555.00) scale(0.97,1)" font-size="8.9" text-anchor="middle" fill="#111" stroke="#111" stroke-width="0.3">d</text>
<text transform="translate(520.25,478.00) scale(0.97,1)" font-size="8.9" text-anchor="middle" fill="#111" stroke="#111" stroke-width="0.3">a</text>
<text transform="translate(520.25,492.00) scale(0.97,1)" font-size="8.9" text-anchor="middle" fill="#111" stroke="#111" stroke-width="0.3">b</text>
<text transform="translate(545.50,570.00) scale(0.97,1)" font-size="8.9" text-anchor="middle" fill="#111" stroke="#111" stroke-width="0.3">d</text>
<text transform="translate(574.40,564.00) scale(0.97,1)" font-size="8.9" text-anchor="middle" fill="#111" stroke="#111" stroke-width="0.3">d</text>
<text transform="translate(600.75,538.00) scale(0.97,1)" font-size="8.9" text-anchor="middle" fill="#111" stroke="#111" stroke-width="0.3">b</text>
<text transform="translate(600.75,551.00) scale(0.97,1)" font-size="8.9" text-anchor="middle" fill="#111" stroke="#111" stroke-width="0.3">c</text>
<text transform="translate(600.75,564.00) scale(0.97,1)" font-size="8.9" text-anchor="middle" fill="#111" stroke="#111" stroke-width="0.3">d</text>
<text transform="translate(628.25,425.00) scale(0.97,1)" font-size="8.9" text-anchor="middle" fill="#111" stroke="#111" stroke-width="0.3">a</text>
<text transform="translate(628.25,438.00) scale(0.97,1)" font-size="8.9" text-anchor="middle" fill="#111" stroke="#111" stroke-width="0.3">b</text>
<text transform="translate(628.25,451.00) scale(0.97,1)" font-size="8.9" text-anchor="middle" fill="#111" stroke="#111" stroke-width="0.3">c</text>
<text transform="translate(654.50,494.00) scale(0.97,1)" font-size="8.9" text-anchor="middle" fill="#111" stroke="#111" stroke-width="0.3">a</text>
<text transform="translate(29.9,540.0) rotate(-90)" font-size="12.2" font-weight="bold" text-anchor="middle" fill="#111" stroke="#111" stroke-width="0.2" textLength="35.6" lengthAdjust="spacingAndGlyphs">ΔF/ F0</text>
<text x="81.63" y="668.00" font-size="10.9" text-anchor="middle" font-weight="bold" fill="#111">PW</text>
<text x="108.96" y="668.00" font-size="10.9" text-anchor="middle" font-weight="bold" fill="#111">SW</text>
<text x="136.29" y="668.00" font-size="10.9" text-anchor="middle" font-weight="bold" fill="#111">FW</text>
<text x="163.61" y="668.00" font-size="10.9" text-anchor="middle" font-weight="bold" fill="#111">CW</text>
<text x="190.94" y="668.00" font-size="10.9" text-anchor="middle" font-weight="bold" fill="#111">XW</text>
<text x="218.27" y="668.00" font-size="10.9" text-anchor="middle" font-weight="bold" fill="#111">PW</text>
<text x="245.60" y="668.00" font-size="10.9" text-anchor="middle" font-weight="bold" fill="#111">SW</text>
<text x="272.93" y="668.00" font-size="10.9" text-anchor="middle" font-weight="bold" fill="#111">FW</text>
<text x="300.25" y="668.00" font-size="10.9" text-anchor="middle" font-weight="bold" fill="#111">CW</text>
<text x="327.58" y="668.00" font-size="10.9" text-anchor="middle" font-weight="bold" fill="#111">XW</text>
<text x="354.91" y="668.00" font-size="10.9" text-anchor="middle" font-weight="bold" fill="#111">PW</text>
<text x="382.24" y="668.00" font-size="10.9" text-anchor="middle" font-weight="bold" fill="#111">SW</text>
<text x="409.57" y="668.00" font-size="10.9" text-anchor="middle" font-weight="bold" fill="#111">FW</text>
<text x="436.89" y="668.00" font-size="10.9" text-anchor="middle" font-weight="bold" fill="#111">CW</text>
<text x="464.22" y="668.00" font-size="10.9" text-anchor="middle" font-weight="bold" fill="#111">XW</text>
<text x="491.55" y="668.00" font-size="10.9" text-anchor="middle" font-weight="bold" fill="#111">PW</text>
<text x="518.88" y="668.00" font-size="10.9" text-anchor="middle" font-weight="bold" fill="#111">SW</text>
<text x="546.21" y="668.00" font-size="10.9" text-anchor="middle" font-weight="bold" fill="#111">FW</text>
<text x="573.53" y="668.00" font-size="10.9" text-anchor="middle" font-weight="bold" fill="#111">CW</text>
<text x="600.86" y="668.00" font-size="10.9" text-anchor="middle" font-weight="bold" fill="#111">XW</text>
<text x="628.19" y="668.00" font-size="10.9" text-anchor="middle" font-weight="bold" fill="#111">NC</text>
<text x="655.52" y="668.00" font-size="10.9" text-anchor="middle" font-weight="bold" fill="#111">PC</text>
<line x1="75.50" y1="675.00" x2="203.50" y2="675.00" stroke="#7f7f7f" stroke-width="1.4"/>
<line x1="207.25" y1="675.00" x2="336.00" y2="675.00" stroke="#7f7f7f" stroke-width="1.4"/>
<line x1="345.00" y1="675.00" x2="473.75" y2="675.00" stroke="#7f7f7f" stroke-width="1.4"/>
<line x1="483.75" y1="675.00" x2="609.00" y2="675.00" stroke="#7f7f7f" stroke-width="1.4"/>
<line x1="75.50" y1="698.25" x2="336.00" y2="698.25" stroke="#7f7f7f" stroke-width="1.4"/>
<line x1="345.00" y1="698.25" x2="610.25" y2="698.25" stroke="#7f7f7f" stroke-width="1.4"/>
<text x="139.00" y="689.50" font-size="10.4" text-anchor="middle" font-weight="normal" fill="#111" textLength="10.40" lengthAdjust="spacingAndGlyphs">1x</text>
<text x="271.90" y="689.50" font-size="10.4" text-anchor="middle" font-weight="normal" fill="#111" textLength="16.60" lengthAdjust="spacingAndGlyphs">10x</text>
<text x="409.90" y="689.50" font-size="10.4" text-anchor="middle" font-weight="normal" fill="#111" textLength="10.60" lengthAdjust="spacingAndGlyphs">1x</text>
<text x="546.90" y="689.50" font-size="10.4" text-anchor="middle" font-weight="normal" fill="#111" textLength="16.60" lengthAdjust="spacingAndGlyphs">10x</text>
<text x="205.10" y="714.50" font-size="10.4" text-anchor="middle" font-weight="normal" fill="#111" textLength="31.75" lengthAdjust="spacingAndGlyphs">2 mins</text>
<text x="478.25" y="714.50" font-size="10.4" text-anchor="middle" font-weight="normal" fill="#111" textLength="26.50" lengthAdjust="spacingAndGlyphs">1 min</text>
<text x="61.25" y="691.25" font-size="12.2" text-anchor="end" font-weight="bold" fill="#111" textLength="42.00" lengthAdjust="spacingAndGlyphs">Dilution</text>
<text x="61.25" y="715.00" font-size="12.2" text-anchor="end" font-weight="bold" fill="#111" textLength="59.25" lengthAdjust="spacingAndGlyphs">Interaction</text>
<text x="61.25" y="730.75" font-size="12.2" text-anchor="end" font-weight="bold" fill="#111" textLength="23.25" lengthAdjust="spacingAndGlyphs">time</text>
</svg>
</body></html>
